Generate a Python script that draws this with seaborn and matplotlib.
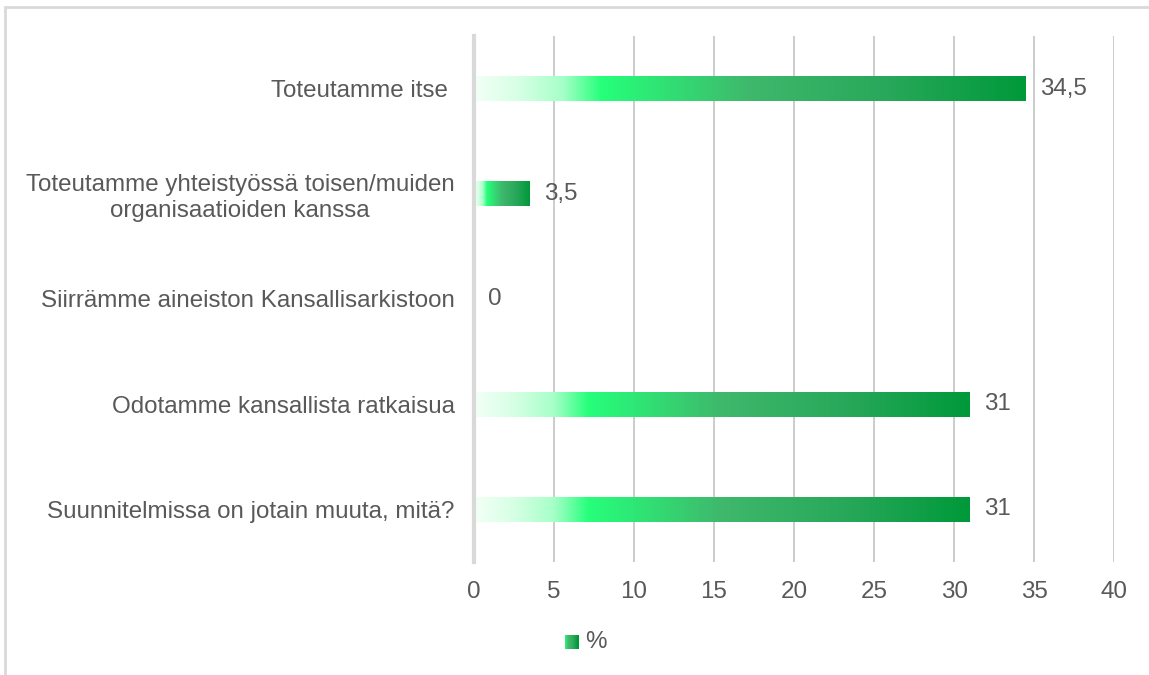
import numpy as np
import pandas as pd
import seaborn as sns
import matplotlib.pyplot as plt
from matplotlib.colors import LinearSegmentedColormap
from matplotlib.patches import Rectangle
from matplotlib.legend_handler import HandlerBase

# data
categories = [
    "Toteutamme itse ",
    "Toteutamme yhteistyössä toisen/muiden\norganisaatioiden kanssa",
    "Siirrämme aineiston Kansallisarkistoon",
    "Odotamme kansallista ratkaisua",
    "Suunnitelmissa on jotain muuta, mitä?",
]
values = [34.5, 3.5, 0, 31, 31]
xticks = [0, 5, 10, 15, 20, 25, 30, 35, 40]

text_col = "#595959"
grid_col = "#c8c8c8"
fs = 17.4

# white -> bright green -> dark green, like the office gradient fill
grad = LinearSegmentedColormap.from_list("grad", [
    (0.0, "#f3fff7"),
    (0.08, "#d6ffe4"),
    (0.16, "#a6ffc8"),
    (0.23, "#26ff7a"),
    (0.5, "#3fb86c"),
    (0.75, "#28a85a"),
    (1.0, "#00993a"),
])

sns.set_style("white")
plt.rcParams["font.family"] = ["Liberation Sans", "DejaVu Sans"]

df = pd.DataFrame({"cat": categories, "val": values})

fig = plt.figure(figsize=(11.49, 6.75), dpi=100)
ax = fig.add_axes([474 / 1149, 1 - 562 / 675, 640 / 1149, 526 / 675])

sns.barplot(data=df, x="val", y="cat", orient="h", width=0.24, ax=ax,
            color="#2cc060", saturation=1)

# replace flat fill with the gradient, clipped to each bar
g = np.linspace(0, 1, 256).reshape(1, -1)
for p in ax.patches:
    w = p.get_width()
    if w <= 0:
        continue
    x0, y0 = p.get_x(), p.get_y()
    h = p.get_height()
    im = ax.imshow(g, cmap=grad, aspect="auto", interpolation="bilinear",
                   extent=[x0, x0 + w, y0 + h, y0], zorder=2)
    im.set_clip_path(p)
    p.set_facecolor("none")
    p.set_edgecolor("none")

ax.set_xlim(0, 40)
ax.set_ylim(len(categories) - 0.5, -0.5)
ax.set_xticks(xticks)
ax.set_xticklabels([str(t) for t in xticks])
ax.xaxis.grid(True, color=grid_col, linewidth=1.3)
ax.set_axisbelow(True)
ax.set_xlabel("")
ax.set_ylabel("")
for s in ["top", "right", "bottom"]:
    ax.spines[s].set_visible(False)
ax.spines["left"].set_color("#d9d9d9")
ax.spines["left"].set_linewidth(3)
ax.tick_params(axis="both", length=0, labelsize=fs, labelcolor=text_col)
ax.tick_params(axis="y", pad=14)
ax.tick_params(axis="x", pad=14)
for lab in ax.get_yticklabels():
    lab.set_multialignment("center")

labels = [str(v).replace(".", ",") if v % 1 else str(int(v)) for v in values]
ax.bar_label(ax.containers[0], labels=labels, padding=10, fontsize=fs,
             color=text_col)


class GradHandler(HandlerBase):
    def create_artists(self, legend, orig, xd, yd, width, height, fontsize, trans):
        n = 12
        arts = []
        for i in range(n):
            r = Rectangle((xd + width * i / n, yd), width / n + 0.3, height,
                          facecolor=grad(0.3 + 0.7 * i / (n - 1)),
                          edgecolor="none", transform=trans)
            arts.append(r)
        return arts


fig.legend([Rectangle((0, 0), 1, 1)], ["%"], handler_map={Rectangle: GradHandler()},
           loc="center", bbox_to_anchor=(586 / 1149, 1 - 642 / 675),
           frameon=False, fontsize=fs, labelcolor=text_col,
           handlelength=0.55, handleheight=0.55, handletextpad=0.3)

# light frame around the chart area (cut at right and bottom)
fig.patches.append(Rectangle((5 / 1149, -0.01), 1.02, 1 - 7 / 675 + 0.01,
                             transform=fig.transFigure, fill=False,
                             edgecolor="#d9d9d9", linewidth=2))

fig.savefig("out.png", dpi=100)
